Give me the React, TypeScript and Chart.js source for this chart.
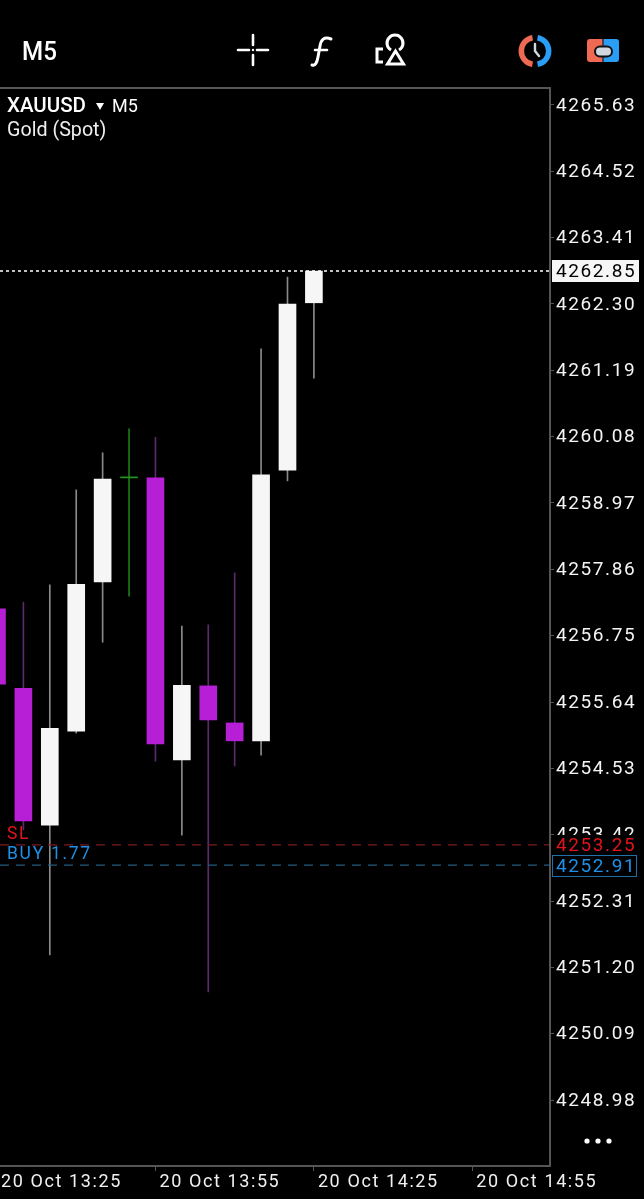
import React, { useEffect, useRef } from "react";
import { Chart, registerables } from "chart.js";

Chart.register(...registerables);

const minutes = [805, 810, 815, 820, 825, 830, 835, 840, 845, 850, 855, 860, 865];
const opens = [4257.2, 4255.87, 4253.58, 4255.15, 4257.65, 4259.39, 4259.39, 4254.67, 4255.91, 4255.29, 4254.99, 4259.52, 4262.32];
const closes = [4255.94, 4253.65, 4255.2, 4257.61, 4259.37, 4259.39, 4254.94, 4255.92, 4255.34, 4254.99, 4259.44, 4262.3, 4262.85];
const highs = [4257.2, 4257.31, 4257.6, 4259.19, 4259.81, 4260.21, 4260.07, 4256.91, 4256.93, 4257.8, 4261.55, 4262.75, 4262.85];
const lows = [4255.94, 4253.5, 4251.41, 4255.12, 4256.64, 4257.41, 4254.65, 4253.41, 4250.79, 4254.57, 4254.75, 4259.34, 4261.06];

const priceTicks = [4265.63, 4264.52, 4263.41, 4262.3, 4261.19, 4260.08, 4258.97, 4257.86, 4256.75, 4255.64, 4254.53, 4253.42, 4252.31, 4251.2, 4250.09, 4248.98];
const timeTicks = [805, 835, 865, 895];
const timeLabels = ["20 Oct 13:25", "20 Oct 13:55", "20 Oct 14:25", "20 Oct 14:55"];

const lastPrice = 4262.85;
const slPrice = 4253.25;
const buyPrice = 4252.91;
const symbolLine = "XAUUSD";
const periodLabel = "M5";
const symbolName = "Gold (Spot)";
const slLabel = "SL";
const buyLabel = "BUY 1.77";

const X_MIN = 805.57;
const X_MAX = 909.7;
const Y_MIN = 4247.876;
const Y_MAX = 4265.914;

const BULL = "#f6f6f6";
const BEAR = "#b71fd6";
const DOJI = "#1f9a1f";
const RED = "#e0141c";
const BLUE = "#1e90e6";
const LABEL_FONT = "19px Roboto, sans-serif";

const bodyColor = (i: number) =>
  closes[i] > opens[i] ? BULL : closes[i] < opens[i] ? BEAR : DOJI;
const wickColor = (i: number) =>
  closes[i] > opens[i] ? "#8a8a8a" : closes[i] < opens[i] ? "#5c2a6c" : "#1a7a1a";

const overlayPlugin = {
  id: "overlay",
  beforeDraw(chart: any) {
    const c = chart.ctx;
    c.letterSpacing = "1.6px";
    c.fillStyle = "#000";
    c.fillRect(0, 0, chart.width, chart.height);
  },
  afterDraw(chart: any) {
    const c = chart.ctx;
    const y = chart.scales.y;
    const area = chart.chartArea;
    c.save();
    c.textBaseline = "middle";
    c.textAlign = "left";
    c.font = LABEL_FONT;

    // frame
    c.strokeStyle = "#555";
    c.lineWidth = 2;
    c.beginPath();
    c.moveTo(0, area.top);
    c.lineTo(area.right, area.top);
    c.lineTo(area.right, area.bottom);
    c.lineTo(0, area.bottom);
    c.stroke();

    // current price tag
    const ly = Math.round(y.getPixelForValue(lastPrice));
    c.fillStyle = "#f6f6f6";
    c.fillRect(552, ly - 11, 87, 22);
    c.fillStyle = "#000";
    c.fillText(lastPrice.toFixed(2), 556, ly + 1);

    // SL tag hides the tick label below it
    const sy = Math.round(y.getPixelForValue(slPrice));
    c.fillStyle = "#000";
    c.fillRect(552, sy - 10, 92, 20);
    c.fillStyle = RED;
    c.fillText(slPrice.toFixed(2), 556, sy + 1);

    // buy tag
    const by = Math.round(y.getPixelForValue(buyPrice));
    c.fillStyle = "#000";
    c.fillRect(552, by - 9, 92, 20);
    c.strokeStyle = "#1f6fa8";
    c.lineWidth = 1;
    c.strokeRect(552.5, by - 9.5, 84, 21);
    c.fillStyle = BLUE;
    c.fillText(buyPrice.toFixed(2), 556, by + 2);

    // order labels
    c.letterSpacing = "1.7px";
    c.font = "17.5px Roboto, sans-serif";
    c.fillStyle = RED;
    c.fillText(slLabel, 7, 835);
    c.fillStyle = BLUE;
    c.fillText(buyLabel, 7, 855);

    // symbol labels
    c.letterSpacing = "0px";
    c.font = "500 20.5px Roboto, sans-serif";
    c.fillStyle = "#fff";
    c.fillText(symbolLine, 7, 107);
    c.font = "18px Roboto, sans-serif";
    c.fillText(periodLabel, 112, 107);
    c.font = "19.7px Roboto, sans-serif";
    c.fillStyle = "#eee";
    c.fillText(symbolName, 7, 131);
    c.fillStyle = "#fff";
    c.beginPath();
    c.moveTo(96, 103);
    c.lineTo(104, 103);
    c.lineTo(100, 110);
    c.closePath();
    c.fill();

    // menu dots
    [587, 598, 609].forEach((dx) => {
      c.beginPath();
      c.arc(dx, 1141, 2.6, 0, Math.PI * 2);
      c.fill();
    });
    c.restore();
  },
};

function Header() {
  return (
    <svg
      width={644}
      height={85}
      style={{ position: "absolute", left: 0, top: 0 }}
      fill="none"
      stroke="#fff"
      strokeWidth={2.6}
      strokeLinecap="round"
    >
      <text
        x={22}
        y={60}
        fill="#fff"
        stroke="none"
        fontFamily="Roboto, sans-serif"
        fontWeight={500}
        fontSize={26}
        transform="translate(22 0) scale(0.93 1) translate(-22 0)"
      >
        M5
      </text>
      <path d="M238 50h11M257 50h11M253 35v10M253 55v10" />
      <circle cx={253} cy={50} r={1.2} fill="#fff" stroke="none" />
      <path d="M331 39c-7-3-10 1-11 7l-2 11c-1 6-3 9-6 8" strokeWidth={3} />
      <path d="M315 50h12" strokeWidth={2.6} />
      <path d="M383 49h-6v13h6" strokeWidth={3} strokeLinecap="butt" />
      <path d="M391 50a8 8 0 1 1 8 0" strokeWidth={3} strokeLinecap="butt" />
      <path d="M395.5 51l-8 13h16z" strokeWidth={3} strokeLinecap="butt" />
      <path d="M532.5 37.7a13.5 13.5 0 0 0 0 26.6" stroke="#ef6a52" strokeWidth={5.5} strokeLinecap="butt" />
      <path d="M537.5 37.7a13.5 13.5 0 0 1 0 26.6" stroke="#2a9df4" strokeWidth={5.5} strokeLinecap="butt" />
      <path d="M535 44v7l4 5" stroke="#cfd8e0" strokeWidth={2.4} />
      <path d="M587 42a3 3 0 0 1 3-3h12.5v23h-12.5a3 3 0 0 1-3-3z" fill="#ef6a52" stroke="none" />
      <path d="M603.5 39h12.5a3 3 0 0 1 3 3v17a3 3 0 0 1-3 3h-12.5z" fill="#2a9df4" stroke="none" />
      <rect x={595} y={46.5} width={17} height={10} rx={5} fill="#cfd8e0" stroke="#111" strokeWidth={2} />
    </svg>
  );
}

export default function App() {
  const ref = useRef<HTMLCanvasElement>(null);

  useEffect(() => {
    document.body.style.margin = "0";
    document.body.style.background = "#000";
    const chart = new Chart(ref.current as HTMLCanvasElement, {
      type: "bar",
      data: {
        datasets: [
          {
            type: "line",
            data: [
              { x: X_MIN, y: lastPrice },
              { x: X_MAX, y: lastPrice },
            ],
            borderColor: "#ffffff",
            borderWidth: 1.5,
            borderDash: [3, 3],
            pointRadius: 0,
            order: 0,
          },
          {
            type: "line",
            data: [
              { x: X_MIN, y: slPrice },
              { x: X_MAX, y: slPrice },
            ],
            borderColor: "#7a1a1e",
            borderWidth: 1.2,
            borderDash: [9, 7],
            pointRadius: 0,
            order: 0,
          },
          {
            type: "line",
            data: [
              { x: X_MIN, y: buyPrice },
              { x: X_MAX, y: buyPrice },
            ],
            borderColor: "#1f5f80",
            borderWidth: 1.2,
            borderDash: [9, 7],
            pointRadius: 0,
            order: 0,
          },
          {
            data: minutes.map((m, i) => ({ x: m, y: [opens[i], closes[i]] })),
            backgroundColor: minutes.map((_, i) => bodyColor(i)),
            barThickness: 17,
            minBarLength: 1,
            grouped: false,
            order: 1,
          },
          {
            data: minutes.map((m, i) => ({ x: m, y: [lows[i], highs[i]] })),
            backgroundColor: minutes.map((_, i) => wickColor(i)),
            barThickness: 1,
            grouped: false,
            order: 2,
          },
        ] as any,
      },
      options: {
        animation: false,
        responsive: false,
        maintainAspectRatio: false,
        parsing: { xAxisKey: "x", yAxisKey: "y" } as any,
        layout: { padding: { top: 88, left: 0, right: 0, bottom: 0 } },
        plugins: { legend: { display: false }, tooltip: { enabled: false } },
        scales: {
          x: {
            type: "linear",
            offset: false,
            min: X_MIN,
            max: X_MAX,
            border: { display: false },
            grid: {
              display: true,
              drawOnChartArea: false,
              drawTicks: true,
              tickLength: 5,
              color: "#555",
              offset: false,
            },
            ticks: {
              autoSkip: false,
              maxRotation: 0,
              minRotation: 0,
              align: "start",
              labelOffset: 4,
              padding: 1,
              color: "#f0f0f0",
              font: { family: "Roboto, sans-serif", size: 18 },
              callback: (v: any) => timeLabels[timeTicks.indexOf(Number(v))] ?? "",
            },
            afterBuildTicks: (s: any) => {
              s.ticks = timeTicks.map((value) => ({ value }));
            },
            afterFit: (s: any) => {
              s.height = 33;
              s.paddingLeft = 0;
              s.paddingRight = 0;
              s._margins = { left: 0, right: 0, top: 0, bottom: 0 };
            },
          },
          y: {
            type: "linear",
            position: "right",
            min: Y_MIN,
            max: Y_MAX,
            border: { display: false },
            grid: {
              display: true,
              drawOnChartArea: false,
              drawTicks: true,
              tickLength: 4,
              color: "#555",
            },
            ticks: {
              autoSkip: false,
              padding: 2,
              labelOffset: 1,
              color: "#f4f4f4",
              font: { family: "Roboto, sans-serif", size: 19 },
              callback: (v: any) => Number(v).toFixed(2),
            },
            afterBuildTicks: (s: any) => {
              s.ticks = priceTicks.map((value) => ({ value }));
            },
            afterFit: (s: any) => {
              s.width = 94;
              s.paddingTop = 0;
              s.paddingBottom = 0;
              s._margins = { left: 0, right: 0, top: 0, bottom: 0 };
            },
          },
        },
      } as any,
      plugins: [overlayPlugin],
    });
    return () => chart.destroy();
  }, []);

  return (
    <div style={{ position: "relative", width: 644, height: 1199, background: "#000", overflow: "hidden" }}>
      <canvas ref={ref} width={644} height={1199} style={{ display: "block", width: 644, height: 1199 }} />
      <Header />
    </div>
  );
}
